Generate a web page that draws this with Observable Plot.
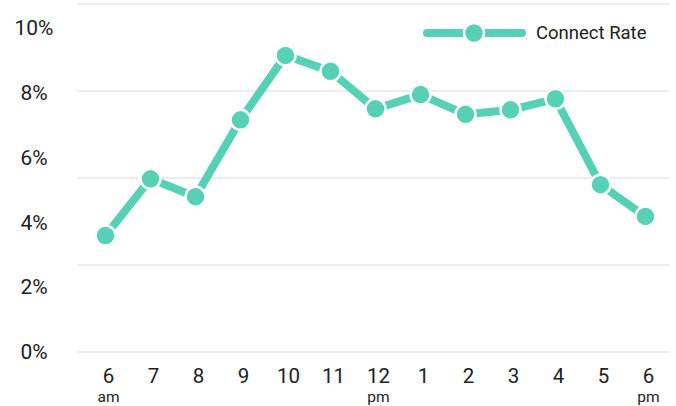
<!DOCTYPE html>
<html>
<head>
<meta charset="utf-8">
<script src="https://cdn.jsdelivr.net/npm/d3@7"></script>
<script src="https://cdn.jsdelivr.net/npm/@observablehq/plot@0.6"></script>
<style>
  html, body { margin: 0; padding: 0; background: #ffffff; }
  #chart { position: relative; width: 676px; height: 406px; font-family: Roboto, sans-serif; }
  #chart > svg.layer { position: absolute; left: 0; top: 0; }
  #legend { position: absolute; left: 419px; top: 18px; display: flex; align-items: center; }
  #legend span { font-size: 18.5px; color: #212121; margin-left: 7px; line-height: 30px; }
  g[aria-label="x-axis tick label"] tspan:nth-child(2) { font-size: 15.5px; }
</style>
</head>
<body>
<div id="chart">
  <div id="legend"></div>
</div>
<script>
// ---- data ----
const categories = ["6 am","7 am","8 am","9 am","10 am","11 am","12 pm","1 pm","2 pm","3 pm","4 pm","5 pm","6 pm"];
const hourLabels = ["6","7","8","9","10","11","12","1","2","3","4","5","6"];
const periodLabels = ["am","","","","","","pm","","","","","","pm"];
const connectRate = [3.61, 5.36, 4.81, 7.18, 9.17, 8.68, 7.52, 7.96, 7.35, 7.49, 7.83, 5.18, 4.20];
const yTickValues = [0, 2, 4, 6, 8, 10];
const gridValues = [0, 2.5, 5, 7.5, 10];
const seriesName = "Connect Rate";
const color = "#57d1b5";

const data = categories.map((c, i) => ({hour: c, rate: connectRate[i]}));

const W = 676, H = 406;
const font = "Roboto, sans-serif";

// background grid layer
const grid = Plot.plot({
  width: W, height: H,
  marginLeft: 77, marginRight: 7, marginTop: 3.5, marginBottom: 54.5,
  style: {background: "transparent", fontFamily: font},
  x: {type: "point", domain: categories, axis: null},
  y: {domain: [0, 10], axis: null},
  marks: [
    Plot.ruleY(gridValues, {stroke: "#ececec", strokeWidth: 2})
  ]
});
grid.classList.add("layer");

// main layer
const tickText = d => {
  const i = categories.indexOf(d);
  return periodLabels[i] ? hourLabels[i] + "\n" + periodLabels[i] : hourLabels[i];
};
const main = Plot.plot({
  width: W, height: H,
  marginLeft: 77, marginRight: 7, marginTop: 28, marginBottom: 54,
  style: {background: "transparent", fontFamily: font, color: "#212121"},
  x: {type: "point", domain: categories, padding: 0.57, align: 0.53},
  y: {domain: [0, 10]},
  marks: [
    Plot.axisY(yTickValues, {tickSize: 0, tickPadding: 43.5, textAnchor: "middle",
      tickFormat: d => d + "%", fontSize: 21, label: null, fill: "#212121"}),
    Plot.axisX({tickSize: 0, tickPadding: 12.5, fontSize: 20.5, label: null, dx: 3, fill: "#212121",
      lineHeight: 1.22, tickFormat: tickText}),
    Plot.line(data, {x: "hour", y: "rate", stroke: color, strokeWidth: 8,
      strokeLinejoin: "round", strokeLinecap: "round"}),
    Plot.dot(data, {x: "hour", y: "rate", r: 10, fill: color, stroke: "white", strokeWidth: 2.5})
  ]
});
main.classList.add("layer");

const chart = document.getElementById("chart");
chart.insertBefore(main, chart.firstChild);
chart.insertBefore(grid, chart.firstChild);

// legend
const legend = document.getElementById("legend");
const ns = "http://www.w3.org/2000/svg";
const ls = document.createElementNS(ns, "svg");
ls.setAttribute("width", 110); ls.setAttribute("height", 30);
const ln = document.createElementNS(ns, "line");
ln.setAttribute("x1", 8); ln.setAttribute("x2", 103); ln.setAttribute("y1", 15); ln.setAttribute("y2", 15);
ln.setAttribute("stroke", color); ln.setAttribute("stroke-width", 8); ln.setAttribute("stroke-linecap", "round");
const cc = document.createElementNS(ns, "circle");
cc.setAttribute("cx", 55); cc.setAttribute("cy", 15); cc.setAttribute("r", 10);
cc.setAttribute("fill", color); cc.setAttribute("stroke", "white"); cc.setAttribute("stroke-width", 2.5);
ls.appendChild(ln); ls.appendChild(cc);
legend.appendChild(ls);
const lt = document.createElement("span");
lt.textContent = seriesName;
legend.appendChild(lt);
</script>
</body>
</html>
